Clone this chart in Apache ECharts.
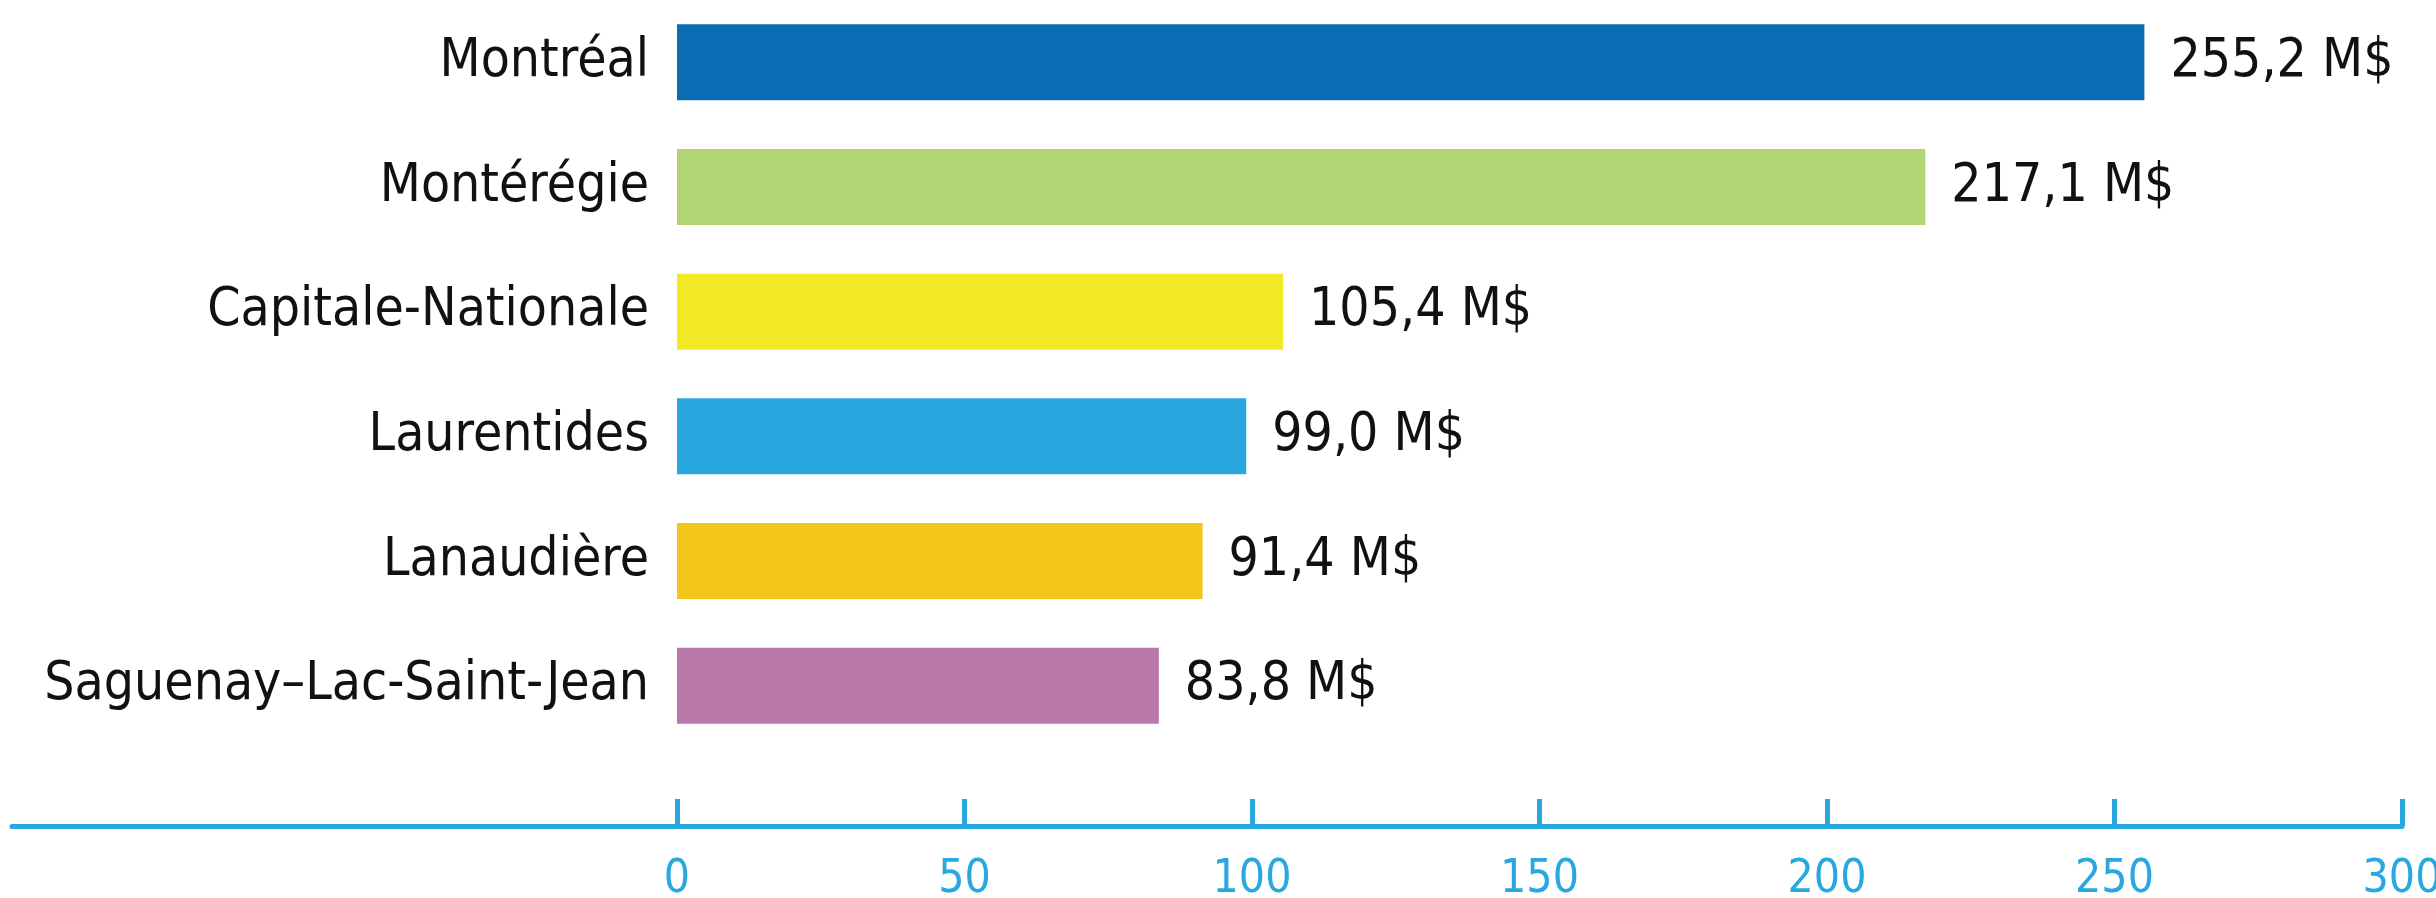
<!DOCTYPE html>
<html>
<head>
<meta charset="utf-8">
<script src="https://cdn.jsdelivr.net/npm/echarts@6/dist/echarts.min.js"></script>
<style>
html,body{margin:0;padding:0;background:#fff;}
#chart{width:2436px;height:898px;}
</style>
</head>
<body>
<div id="chart"></div>
<script>
const categories = ['Montréal', 'Montérégie', 'Capitale-Nationale', 'Laurentides', 'Lanaudière', 'Saguenay–Lac-Saint-Jean'];
const values = [255.2, 217.1, 105.4, 99.0, 91.4, 83.8];
const barColors = ['#0a6cb3', '#b0d572', '#f2e924', '#29a8e0', '#f2c618', '#b879aa'];
const tickValues = [0, 50, 100, 150, 200, 250, 300];

const FONT = "'Liberation Sans Narrow', 'DejaVu Sans Condensed', 'Arial Narrow', sans-serif";
const chart = echarts.init(document.getElementById('chart'), null, {renderer: 'canvas'});

const option = {
  animation: false,
  backgroundColor: '#ffffff',
  grid: {left: 12, right: 34, top: 0, height: 748, containLabel: false, outerBoundsMode: 'none'},
  xAxis: {
    type: 'value',
    min: -115.65,
    max: 300,
    offset: 78,
    splitLine: {show: false},
    axisLine: {show: true, onZero: false, lineStyle: {color: '#29a8e0', width: 5}},
    axisTick: {show: true, inside: true, length: 27, customValues: tickValues, lineStyle: {color: '#29a8e0', width: 5}},
    axisLabel: {show: true, customValues: tickValues, margin: 31, color: '#29a8e0', fontSize: 46, fontFamily: FONT}
  },
  yAxis: {
    type: 'category',
    data: categories,
    inverse: true,
    offset: -665,
    axisLine: {show: false, onZero: false},
    axisTick: {show: false},
    axisLabel: {margin: 28, color: '#111111', fontSize: 53, fontFamily: FONT}
  },
  series: [{
    type: 'bar',
    data: values.map((v, i) => ({value: v, itemStyle: {color: barColors[i]}})),
    barWidth: 76,
    label: {
      show: true,
      position: 'right',
      distance: 26,
      color: '#111111',
      fontSize: 53,
      fontFamily: FONT,
      formatter: p => p.value.toFixed(1).replace('.', ',') + ' M$'
    }
  }]
};
chart.setOption(option);
</script>
</body>
</html>
